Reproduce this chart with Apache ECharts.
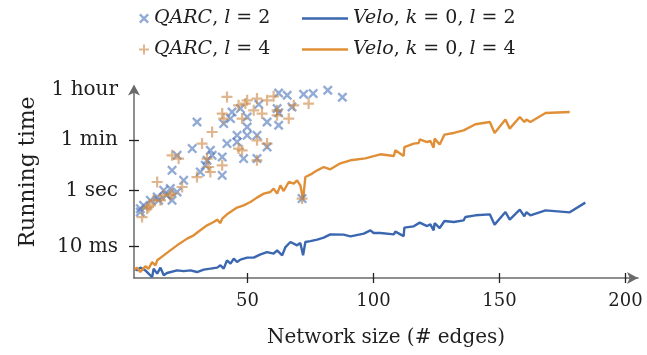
<!DOCTYPE html>
<html>
<head>
<meta charset="utf-8">
<script src="https://cdn.jsdelivr.net/npm/echarts@6/dist/echarts.min.js"></script>
<style>
  html, body { margin: 0; padding: 0; background: #fff; }
  #chart { width: 647px; height: 355px; }
</style>
</head>
<body>
<div id="chart"></div>
<script>
// Running time (seconds) against network size (number of edges)

// Velo, k = 0, l = 2
const veloL2Edges = [5.2, 6.2, 7.5, 9.5, 10.8, 12.2, 12.8, 14.2, 15.5, 16.8, 18.1, 22.1, 24.7, 27.4, 30.0, 32.7, 35.3, 38.0, 39.3, 40.6, 41.9, 43.3, 44.6, 45.9, 47.2, 49.9, 52.5, 55.2, 57.8, 60.4, 61.8, 63.8, 65.1, 67.1, 69.7, 71.0, 72.1, 73.0, 75.0, 77.7, 80.3, 82.9, 88.2, 90.9, 96.2, 98.8, 100.1, 102.8, 108.1, 108.7, 112.0, 112.3, 116.0, 118.4, 121.3, 122.6, 123.9, 124.3, 126.3, 128.2, 131.9, 135.8, 136.5, 140.5, 146.2, 148.1, 152.4, 154.1, 158.1, 159.9, 160.7, 162.3, 168.3, 177.9, 184.1];
const veloL2Times = [0.00167, 0.00146, 0.00182, 0.00146, 0.00111, 0.00084, 0.00167, 0.00111, 0.00182, 0.00097, 0.00117, 0.00146, 0.00137, 0.00146, 0.00127, 0.00154, 0.00167, 0.00182, 0.00219, 0.00167, 0.0033, 0.00252, 0.00379, 0.00287, 0.00349, 0.0041, 0.0041, 0.00537, 0.00649, 0.00569, 0.00745, 0.00495, 0.00975, 0.0147, 0.0112, 0.0135, 0.00495, 0.0147, 0.0159, 0.0179, 0.021, 0.0275, 0.0269, 0.0234, 0.0292, 0.0382, 0.0306, 0.0306, 0.0275, 0.0343, 0.0239, 0.0476, 0.0529, 0.0716, 0.0542, 0.0623, 0.0382, 0.0692, 0.046, 0.0815, 0.0752, 0.0863, 0.113, 0.13, 0.141, 0.0608, 0.17, 0.0914, 0.207, 0.12, 0.166, 0.13, 0.195, 0.166, 0.366];

// Velo, k = 0, l = 4
const veloL4Edges = [5.2, 6.2, 7.5, 9.5, 10.8, 12.2, 13.5, 14.2, 16.8, 19.4, 22.1, 26.1, 28.7, 31.3, 34.0, 36.6, 38.0, 39.3, 40.0, 41.9, 45.9, 48.5, 51.2, 53.8, 56.5, 59.1, 60.4, 61.8, 63.1, 64.4, 66.4, 68.4, 69.7, 71.0, 72.1, 73.0, 75.7, 77.7, 80.3, 82.9, 86.9, 90.9, 96.8, 102.8, 108.1, 108.7, 112.0, 112.3, 116.0, 118.0, 118.4, 121.3, 122.6, 123.9, 124.3, 126.3, 128.2, 131.9, 135.8, 140.5, 146.2, 148.1, 152.4, 154.1, 158.1, 159.9, 160.7, 162.3, 168.3, 177.9];
const veloL4Times = [0.00154, 0.00182, 0.00127, 0.00202, 0.00167, 0.00287, 0.00219, 0.0033, 0.00495, 0.00745, 0.0112, 0.0194, 0.0254, 0.0382, 0.0574, 0.0752, 0.0914, 0.0692, 0.0991, 0.141, 0.244, 0.294, 0.385, 0.551, 0.764, 0.871, 1.15, 0.764, 1.5, 0.944, 1.97, 1.73, 2.26, 1.5, 0.48, 2.96, 3.91, 5.12, 6.7, 5.56, 9.06, 11.6, 13.6, 18.9, 16.5, 26.2, 16.5, 34.3, 45.3, 47.6, 64.4, 51.6, 56.0, 32.7, 68.1, 41.8, 94.4, 108, 134, 219, 264, 108, 321, 154, 397, 264, 321, 264, 551, 598];

// QARC, l = 2
const qarcL2Edges = [62.4, 65.8, 72.3, 76.1, 81.9, 87.7, 54.5, 61.8, 47.2, 43.9, 49.9, 43.3, 40.6, 57.8, 62.4, 30.0, 49.9, 45.9, 49.9, 53.8, 41.9, 45.9, 57.8, 28.1, 22.1, 35.3, 36.0, 34.0, 40.0, 48.5, 53.8, 33.3, 20.1, 40.0, 31.3, 24.7, 22.1, 19.4, 16.8, 14.2, 11.5, 8.8, 7.5, 71.7, 20.1, 14.8, 7.5, 17.9, 67.7, 62.4];
const qarcL2Times = [2820, 2340, 2540, 2690, 3520, 1990, 1120, 789, 789, 598, 397, 349, 232, 264, 202, 264, 176, 89.1, 89.1, 89.1, 45.3, 51.6, 34.3, 30.1, 17.4, 26.2, 17.4, 11.6, 15.2, 13.3, 13.3, 7.71, 5.12, 3.4, 4.46, 2.26, 0.871, 1.15, 1.0, 0.578, 0.442, 0.294, 0.224, 0.508, 0.442, 0.442, 0.17, 0.665, 899, 560];

// QARC, l = 4
const qarcL4Edges = [41.9, 49.9, 53.8, 57.8, 60.4, 46.5, 49.2, 52.5, 68.4, 74.3, 40.0, 40.6, 55.8, 61.8, 66.4, 47.9, 36.0, 32.0, 53.8, 57.8, 46.5, 47.9, 20.1, 22.7, 34.6, 40.0, 34.0, 53.8, 30.0, 14.2, 24.1, 20.1, 12.8, 10.8, 71.7, 35.3, 19.4, 15.5, 11.5, 8.2, 10.2, 16.7, 61.8];
const qarcL4Times = [2040, 1550, 1790, 1550, 2150, 1030, 1190, 687, 1030, 1190, 525, 349, 525, 457, 349, 349, 117, 45.3, 59.3, 45.3, 30.1, 26.2, 17.4, 13.3, 6.7, 7.71, 13.3, 11.6, 2.96, 1.97, 1.31, 0.764, 0.442, 0.256, 0.508, 4.46, 0.665, 0.442, 0.294, 0.113, 0.224, 0.665, 687];

// Axis ticks
const timeTickValues = [0.01, 1, 60, 3600];
const timeTickLabels = ['10 ms', '1 sec', '1 min', '1 hour'];
const sizeTickValues = [50, 100, 150, 200];

const FONT = '"DejaVu Serif", "Liberation Serif", serif';
const TEXT = '#1f1f1f';
const AXIS = '#6a6a6a';
const BLUE = '#3b67b1';
const ORANGE = '#e08f36';
// Marker outlines: a plus sign and the same sign turned a quarter-half turn (a cross)
const PLUS = 'path://M4,0H6V4H10V6H6V10H4V6H0V4H4Z';
const CROSS = 'path://M7.828,0.757L9.243,2.172L6.414,5L9.243,7.828L7.828,9.243L5,6.414L2.172,9.243L0.757,7.828L3.586,5L0.757,2.172L2.172,0.757L5,3.586Z';

const zip = (xs, ys) => xs.map((x, i) => [x, ys[i]]);

function timeLabel(v) {
  let best = 0;
  timeTickValues.forEach((t, i) => {
    if (Math.abs(Math.log10(v) - Math.log10(t)) < Math.abs(Math.log10(v) - Math.log10(timeTickValues[best]))) best = i;
  });
  return timeTickLabels[best];
}

const legendRich = {
  i: { fontFamily: FONT, fontSize: 19, fontStyle: 'italic', color: TEXT, lineHeight: 23 }
};
function legendText(name) {
  return name
    .replace('QARC', '{i|QARC}')
    .replace('Velo', '{i|Velo}')
    .replace('k =', '{i|k} =')
    .replace('l =', '{i|l} =');
}

const yCommon = {
  type: 'log',
  logBase: 10,
  min: 0.00078,
  max: 3600,
  splitLine: { show: false },
  minorTick: { show: false }
};
const xCommon = {
  type: 'value',
  min: 5,
  max: 205,
  splitLine: { show: false }
};

const chart = echarts.init(document.getElementById('chart'), null, { renderer: 'canvas' });
chart.setOption({
  animation: false,
  backgroundColor: '#fff',
  grid: { left: 134, right: 9, top: 90, bottom: 77, containLabel: false },
  legend: [
    {
      data: ['QARC, l = 2', 'QARC, l = 4'],
      orient: 'vertical',
      left: 134,
      top: 2,
      itemWidth: 10,
      itemHeight: 10,
      itemGap: 8,
      formatter: legendText,
      textStyle: { fontFamily: FONT, fontSize: 19, color: TEXT, lineHeight: 23, rich: legendRich }
    },
    {
      data: [
        { name: 'Velo, k = 0, l = 2', icon: 'rect' },
        { name: 'Velo, k = 0, l = 4', icon: 'rect' }
      ],
      orient: 'vertical',
      left: 297,
      top: 2,
      itemWidth: 46,
      itemHeight: 2.4,
      itemGap: 8,
      formatter: legendText,
      textStyle: { fontFamily: FONT, fontSize: 19, color: TEXT, lineHeight: 23, rich: legendRich }
    }
  ],
  xAxis: [
    Object.assign({}, xCommon, {
      name: 'Network size (# edges)',
      nameLocation: 'middle',
      nameGap: 50,
      nameTextStyle: { fontFamily: FONT, fontSize: 20, color: TEXT },
      axisLine: { lineStyle: { color: AXIS, width: 1.5 }, symbol: ['none', 'arrow'], symbolSize: [9, 11], symbolOffset: [0, 0] },
      axisTick: { customValues: sizeTickValues, length: 5, lineStyle: { color: '#222', width: 1.3 } },
      axisLabel: { customValues: sizeTickValues, margin: 14, fontFamily: FONT, fontSize: 18, color: TEXT }
    }),
    Object.assign({}, xCommon, {
      position: 'bottom',
      axisLine: { show: false },
      axisTick: { customValues: sizeTickValues, inside: true, length: 5, lineStyle: { color: '#222', width: 1.3 } },
      axisLabel: { show: false }
    })
  ],
  yAxis: [
    Object.assign({}, yCommon, {
      name: 'Running time',
      nameLocation: 'middle',
      nameGap: 95,
      nameTextStyle: { fontFamily: FONT, fontSize: 22, color: TEXT, padding: [0, 0, 0, 24] },
      axisLine: { lineStyle: { color: AXIS, width: 1.5 }, symbol: ['none', 'arrow'], symbolSize: [9, 11], symbolOffset: [0, 5.5] },
      axisTick: { customValues: timeTickValues.slice(0, 3), length: 5, lineStyle: { color: '#222', width: 1.3 } },
      axisLabel: { customValues: timeTickValues, margin: 16, fontFamily: FONT, fontSize: 20, color: TEXT, formatter: timeLabel }
    }),
    Object.assign({}, yCommon, {
      position: 'left',
      axisLine: { show: false },
      axisTick: { customValues: timeTickValues.slice(0, 3), inside: true, length: 5, lineStyle: { color: '#222', width: 1.3 } },
      axisLabel: { show: false }
    })
  ],
  series: [
    {
      name: 'Velo, k = 0, l = 2',
      type: 'line',
      data: zip(veloL2Edges, veloL2Times),
      symbol: 'none',
      color: BLUE,
      lineStyle: { color: BLUE, width: 2.4 },
      z: 2
    },
    {
      name: 'Velo, k = 0, l = 4',
      type: 'line',
      data: zip(veloL4Edges, veloL4Times),
      symbol: 'none',
      color: ORANGE,
      lineStyle: { color: ORANGE, width: 2.4 },
      z: 2
    },
    {
      name: 'QARC, l = 2',
      type: 'scatter',
      data: zip(qarcL2Edges, qarcL2Times),
      symbol: CROSS,
      symbolSize: 10,
      color: '#4a73b8',
      itemStyle: { color: '#4a73b8', opacity: 0.6 },
      z: 3
    },
    {
      name: 'QARC, l = 4',
      type: 'scatter',
      data: zip(qarcL4Edges, qarcL4Times),
      symbol: PLUS,
      symbolSize: 11,
      color: '#c98641',
      itemStyle: { color: '#c98641', opacity: 0.6 },
      z: 3
    }
  ]
});
</script>
</body>
</html>
